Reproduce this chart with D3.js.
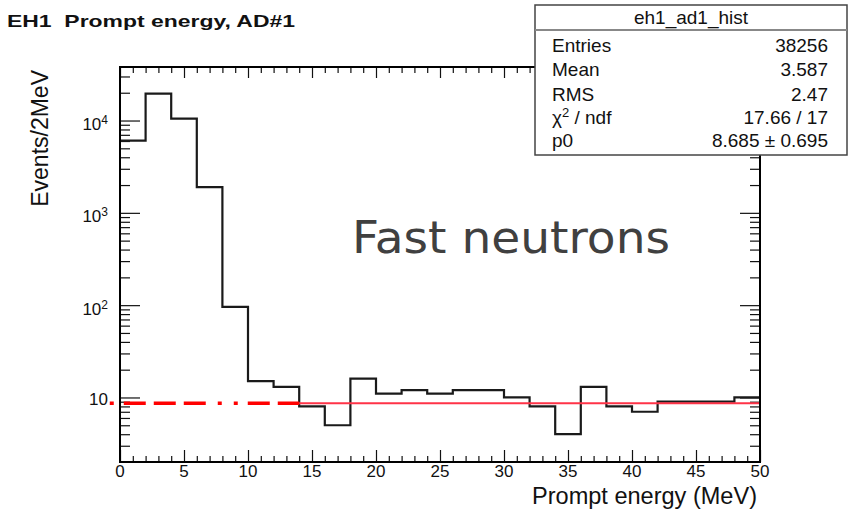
<!DOCTYPE html>
<html>
<head>
<meta charset="utf-8">
<script src="https://cdn.jsdelivr.net/npm/d3@7"></script>
<style>
  body { margin: 0; background: #fff; }
  svg { display: block; }
</style>
</head>
<body>
<div id="chart"></div>
<script>
// histogram: 2 MeV bins from 0 to 50 MeV
let binWidth = 2;
let counts = [6050, 19600, 10500, 1900, 96, 15, 13, 8, 5, 16, 11, 12, 11,
  12, 12, 10, 8, 4, 13, 8, 7, 9, 9, 9, 10];
let xTicks = [0, 5, 10, 15, 20, 25, 30, 35, 40, 45, 50];
let yDecades = [10, 100, 1000, 10000];
let yLabels = [["10", ""], ["10", "2"], ["10", "3"], ["10", "4"]];

// flat fit, p0 over [14, 50], extrapolated below
let p0 = 8.685;
let fitRange = [14, 50];
let extrapRange = [-0.8, 14];

let statsTitle = "eh1_ad1_hist";
let statsNames = ["Entries", "Mean", "RMS", "χ2 / ndf", "p0"];
let statsValues = ["38256", "3.587", "2.47", "17.66 / 17", "8.685 ± 0.695"];

let w = 855, h = 511;
let font = "'Liberation Sans', Arial, Helvetica, sans-serif";

let svg = d3.select("#chart")
  .append("svg")
  .attr("width", w)
  .attr("height", h)
  .attr("viewBox", [0, 0, w, h]);

let x = d3.scaleLinear().domain([0, 50]).range([120, 760]);
let y = d3.scaleLog().domain([2, 38000]).range([462, 67]);

let minorX = d3.range(0, 51).filter(v => v % 5 != 0);
let minorY = [];
[1, 10, 100, 1000, 10000].forEach(d => {
  for (let k = 2; k <= 9; k++) {
    let v = k * d;
    if (v > 2 && v < 38000) minorY.push(v);
  }
});

function noDomain(g) {
  g.select(".domain").remove();
  g.selectAll(".tick line").attr("stroke", "#111").attr("stroke-width", 1.2);
}

// ticks, ROOT style (inside the frame)
svg.append("g")
  .attr("transform", `translate(0,${y.range()[0]})`)
  .call(d3.axisBottom(x).tickValues(xTicks).tickSize(-12).tickFormat(""))
  .call(noDomain);
svg.append("g")
  .attr("transform", `translate(0,${y.range()[0]})`)
  .call(d3.axisBottom(x).tickValues(minorX).tickSize(-6).tickFormat(""))
  .call(noDomain);
svg.append("g")
  .attr("transform", `translate(0,${y.range()[1]})`)
  .call(d3.axisTop(x).tickValues(xTicks).tickSize(-11).tickFormat(""))
  .call(noDomain);
svg.append("g")
  .attr("transform", `translate(0,${y.range()[1]})`)
  .call(d3.axisTop(x).tickValues(minorX).tickSize(-6).tickFormat(""))
  .call(noDomain);
svg.append("g")
  .attr("transform", `translate(${x.range()[0]},0)`)
  .call(d3.axisLeft(y).tickValues(yDecades).tickSize(-20).tickFormat(""))
  .call(noDomain);
svg.append("g")
  .attr("transform", `translate(${x.range()[0]},0)`)
  .call(d3.axisLeft(y).tickValues(minorY).tickSize(-10).tickFormat(""))
  .call(noDomain);
svg.append("g")
  .attr("transform", `translate(${x.range()[1]},0)`)
  .call(d3.axisRight(y).tickValues(yDecades).tickSize(-20).tickFormat(""))
  .call(noDomain);
svg.append("g")
  .attr("transform", `translate(${x.range()[1]},0)`)
  .call(d3.axisRight(y).tickValues(minorY).tickSize(-10).tickFormat(""))
  .call(noDomain);

// x tick labels
svg.append("g")
  .selectAll("text")
  .data(xTicks)
  .join("text")
  .attr("x", d => x(d))
  .attr("y", 477)
  .attr("text-anchor", "middle")
  .style("font-family", font)
  .attr("font-size", 17)
  .attr("fill", "#111")
  .text(d => d);

// y tick labels with superscripts
let yl = svg.append("g")
  .selectAll("text")
  .data(yDecades)
  .join("text")
  .attr("x", 108)
  .attr("y", (d, i) => y(d) + (i == 0 ? 7.5 : 9.5))
  .attr("text-anchor", "end")
  .style("font-family", font)
  .attr("font-size", 17)
  .attr("fill", "#111");
yl.append("tspan").text((d, i) => yLabels[i][0]);
yl.append("tspan")
  .attr("font-size", 12)
  .attr("dy", -6)
  .text((d, i) => yLabels[i][1]);

// histogram outline
let path = d3.path();
counts.forEach((c, i) => {
  let x0 = x(i * binWidth), x1 = x((i + 1) * binWidth);
  if (i == 0) path.moveTo(x0, y(c));
  else path.lineTo(x0, y(c));
  path.lineTo(x1, y(c));
});
svg.append("path")
  .attr("d", path.toString())
  .attr("fill", "none")
  .attr("stroke", "#1a1a1a")
  .attr("stroke-width", 2.2);

// fit and extrapolation
svg.append("line")
  .attr("x1", x(extrapRange[0]))
  .attr("x2", x(extrapRange[1]))
  .attr("y1", y(p0))
  .attr("y2", y(p0))
  .attr("stroke", "#ff0000")
  .attr("stroke-width", 3.5)
  .attr("stroke-dasharray", "22,8,22,8,22,12,4,12,4,10")
  .attr("stroke-dashoffset", 110);
svg.append("line")
  .attr("x1", x(fitRange[0]))
  .attr("x2", x(fitRange[1]))
  .attr("y1", y(p0))
  .attr("y2", y(p0))
  .attr("stroke", "#ff3347")
  .attr("stroke-width", 2);

// frame
svg.append("rect")
  .attr("x", x.range()[0])
  .attr("y", y.range()[1])
  .attr("width", x.range()[1] - x.range()[0])
  .attr("height", y.range()[0] - y.range()[1])
  .attr("fill", "none")
  .attr("stroke", "#000")
  .attr("stroke-width", 2);

// titles
svg.append("text")
  .attr("x", 7)
  .attr("y", 27)
  .style("font-family", font)
  .attr("font-weight", "bold")
  .attr("font-size", 17)
  .attr("textLength", 288)
  .attr("lengthAdjust", "spacingAndGlyphs")
  .attr("fill", "#111")
  .attr("xml:space", "preserve")
  .text("EH1  Prompt energy, AD#1");

svg.append("text")
  .attr("x", 757)
  .attr("y", 504)
  .attr("text-anchor", "end")
  .style("font-family", font)
  .attr("font-size", 23.5)
  .attr("textLength", 225)
  .attr("lengthAdjust", "spacingAndGlyphs")
  .attr("fill", "#111")
  .text("Prompt energy (MeV)");

svg.append("text")
  .attr("transform", "translate(48,70) rotate(-90)")
  .attr("text-anchor", "end")
  .style("font-family", font)
  .attr("font-size", 23)
  .attr("fill", "#111")
  .text("Events/2MeV");

svg.append("text")
  .attr("x", 352)
  .attr("y", 253)
  .style("font-family", "'DejaVu Sans', Verdana, sans-serif")
  .attr("font-size", 45)
  .attr("textLength", 318)
  .attr("lengthAdjust", "spacingAndGlyphs")
  .attr("fill", "#404040")
  .text("Fast neutrons");

// stats box
let box = svg.append("g");
box.append("rect")
  .attr("x", 535)
  .attr("y", 5)
  .attr("width", 312)
  .attr("height", 150)
  .attr("fill", "#fff")
  .attr("stroke", "#444")
  .attr("stroke-width", 1.5);
box.append("line")
  .attr("x1", 535)
  .attr("x2", 847)
  .attr("y1", 30)
  .attr("y2", 30)
  .attr("stroke", "#888")
  .attr("stroke-width", 2);
box.append("text")
  .attr("x", 691)
  .attr("y", 24)
  .attr("text-anchor", "middle")
  .style("font-family", font)
  .attr("font-size", 19)
  .attr("fill", "#111")
  .text(statsTitle);

let rowY = [52, 76, 101, 124, 147];
box.append("g")
  .selectAll("text")
  .data(statsNames)
  .join("text")
  .attr("x", 552)
  .attr("y", (d, i) => rowY[i])
  .style("font-family", font)
  .attr("font-size", 19)
  .attr("fill", "#111")
  .each(function (d) {
    let t = d3.select(this);
    if (d.startsWith("χ2")) {
      t.append("tspan").text("χ");
      t.append("tspan").attr("font-size", 13).attr("dy", -7).text("2");
      t.append("tspan").attr("dy", 7).text(" / ndf");
    } else {
      t.text(d);
    }
  });
box.append("g")
  .selectAll("text")
  .data(statsValues)
  .join("text")
  .attr("x", 828)
  .attr("y", (d, i) => rowY[i])
  .attr("text-anchor", "end")
  .style("font-family", font)
  .attr("font-size", 19)
  .attr("fill", "#111")
  .text(d => d);
</script>
</body>
</html>
